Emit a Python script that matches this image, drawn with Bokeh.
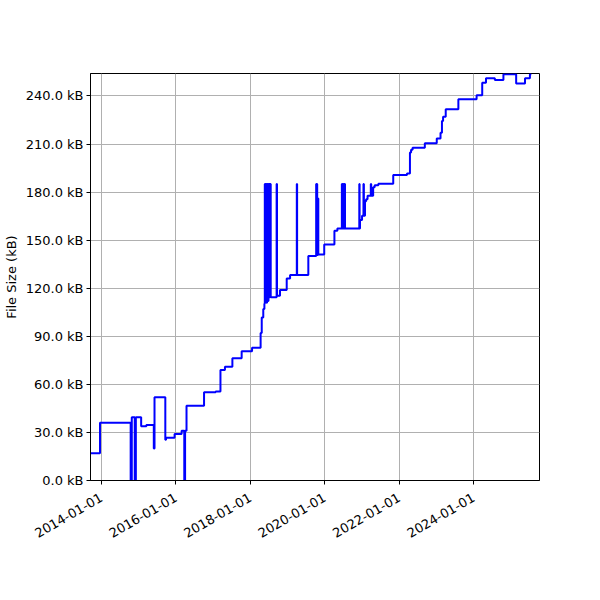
import pandas as pd
from bokeh.plotting import figure
from bokeh.models import (ColumnDataSource, Range1d, FixedTicker, PrintfTickFormatter,
                          DatetimeTickFormatter)
from bokeh.embed import file_html
from bokeh.resources import INLINE

# ---- data ----
commit_dates = [
    "2013-08-08", "2013-12-18", "2014-10-15", "2014-10-26", "2014-11-24", "2014-12-05",
    "2015-01-26", "2015-03-18", "2015-05-30", "2015-06-06", "2015-09-20", "2015-09-27",
    "2015-12-20", "2016-02-27", "2016-03-24", "2016-04-01", "2016-04-15", "2016-10-04",
    "2017-01-26", "2017-03-14", "2017-04-27", "2017-07-09", "2017-10-08", "2018-01-18",
    "2018-04-12", "2018-04-23", "2018-05-08", "2018-05-19",
    "2018-05-23", "2018-05-26", "2018-05-30", "2018-06-03", "2018-06-06", "2018-06-10",
    "2018-06-14", "2018-06-17", "2018-06-21", "2018-06-24", "2018-06-28", "2018-07-01",
    "2018-07-04", "2018-07-08", "2018-07-11", "2018-07-20",
    "2018-09-16", "2018-09-20", "2018-10-19", "2018-12-24", "2019-01-26",
    "2019-04-02", "2019-04-05", "2019-07-24",
    "2019-10-09", "2019-10-12", "2019-10-16", "2019-10-19", "2019-10-27", "2019-10-30",
    "2019-12-27", "2020-04-05", "2020-05-04",
    "2020-06-17", "2020-06-20", "2020-06-24", "2020-06-27", "2020-07-01", "2020-07-04",
    "2020-07-08", "2020-07-11", "2020-07-15", "2020-07-18",
    "2020-12-05", "2020-12-08", "2020-12-12", "2021-01-01", "2021-01-15", "2021-01-19",
    "2021-01-30", "2021-02-10", "2021-02-24", "2021-03-28", "2021-04-01", "2021-04-20",
    "2021-05-05", "2021-06-10", "2021-11-03", "2022-03-18", "2022-04-16", "2022-04-27",
    "2022-05-12", "2022-09-09", "2023-01-04", "2023-02-10", "2023-02-24", "2023-03-07",
    "2023-04-02", "2023-08-04", "2024-01-30", "2024-03-25", "2024-05-01", "2024-07-27",
    "2024-10-19", "2025-02-21", "2025-05-19", "2025-07-06", "2025-07-20",
]
file_size_kb = [
    17.0, 36.1, 0.0, 39.5, 0.0, 39.5,
    33.8, 34.6, 20.0, 52.0, 25.4, 26.7,
    29.0, 31.0, 0.0, 31.0, 46.6, 55.0,
    55.5, 69.0, 71.0, 76.3, 80.6, 82.9,
    92.0, 101.8, 107.0, 110.5,
    185.0, 111.0, 185.0, 112.0, 185.0, 111.0,
    185.0, 113.0, 185.0, 112.0, 185.0, 114.0,
    185.0, 114.3, 185.0, 114.3,
    185.0, 115.3, 118.9, 126.1, 128.2,
    185.0, 128.2, 140.1,
    185.0, 140.7, 185.0, 140.7, 176.0, 141.0,
    147.3, 155.9, 157.3,
    185.0, 157.3, 185.0, 157.3, 185.0, 157.3,
    185.0, 157.3, 185.0, 157.3,
    185.0, 157.3, 162.5, 165.2, 185.0, 165.2,
    174.2, 175.6, 177.7, 185.0, 177.7, 183.0,
    184.3, 185.2, 190.6, 191.6, 204.7, 206.4,
    207.6, 210.5, 213.4, 217.0, 224.4, 227.0,
    231.7, 238.0, 240.4, 248.3, 251.0, 250.0,
    253.5, 247.7, 251.0, 253.5, 253.5,
]
y_ticks_kb = [0, 30, 60, 90, 120, 150, 180, 210, 240]
x_tick_dates = ["2014-01-01", "2016-01-01", "2018-01-01", "2020-01-01", "2022-01-01", "2024-01-01"]

src = ColumnDataSource(dict(date=pd.to_datetime(commit_dates), size=file_size_kb))

FONT = "DejaVu Sans"
FS = "13px"

p = figure(
    frame_width=449, frame_height=407,
    min_border_left=82, min_border_top=73, min_border_right=40, min_border_bottom=95,
    x_axis_type="datetime",
    x_range=Range1d(pd.Timestamp("2013-09-16"), pd.Timestamp("2025-10-08")),
    y_range=Range1d(0, 254),
    output_backend="svg", toolbar_location=None,
    background_fill_color="white", border_fill_color="white",
)

p.step("date", "size", source=src, mode="after", line_color="blue", line_width=2)

tick_ms = [pd.Timestamp(d).value / 1e6 for d in x_tick_dates]
p.xaxis.ticker = FixedTicker(ticks=tick_ms)
p.xaxis.formatter = DatetimeTickFormatter(
    years="%Y-%m-%d", months="%Y-%m-%d", days="%Y-%m-%d", hours="%Y-%m-%d",
    minutes="%Y-%m-%d", hourmin="%Y-%m-%d", seconds="%Y-%m-%d", minsec="%Y-%m-%d",
    milliseconds="%Y-%m-%d", microseconds="%Y-%m-%d")
p.xaxis.major_label_orientation = 0.5236

p.yaxis.ticker = FixedTicker(ticks=y_ticks_kb)
p.yaxis.formatter = PrintfTickFormatter(format="%.1f kB")
p.yaxis.axis_label = "File Size (kB)"
p.yaxis.axis_label_text_font = FONT
p.yaxis.axis_label_text_font_size = FS
p.yaxis.axis_label_text_font_style = "normal"
p.yaxis.axis_label_text_color = "black"
p.yaxis.axis_label_standoff = 4

for ax in (p.xaxis, p.yaxis):
    ax.major_label_text_font = FONT
    ax.major_label_text_font_size = FS
    ax.major_label_text_color = "black"
    ax.major_label_standoff = 3
    ax.major_tick_out = 4
    ax.major_tick_in = 0
    ax.minor_tick_line_color = None
    ax.axis_line_color = "black"
    ax.major_tick_line_color = "black"
    ax.axis_line_width = 1

p.xaxis.major_label_standoff = 12

for g in (p.xgrid, p.ygrid):
    g.grid_line_color = "#b0b0b0"
    g.grid_line_width = 1

p.outline_line_color = "black"
p.outline_line_width = 1
p.outline_line_alpha = 1

open("out.html", "w").write(file_html(p, INLINE))
